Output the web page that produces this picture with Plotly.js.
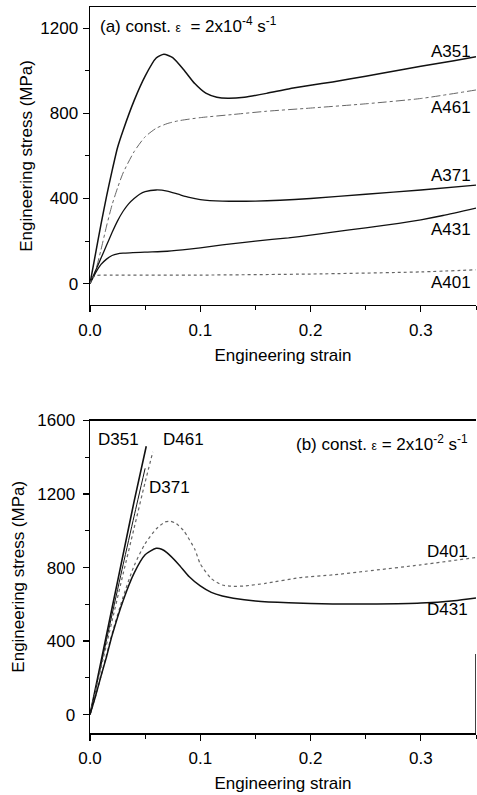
<!DOCTYPE html>
<html>
<head>
<meta charset="utf-8">
<script src="https://cdn.plot.ly/plotly-3.0.1.min.js"></script>
<style>html,body{margin:0;padding:0;background:#fff;}#chart{width:477px;height:795px;}</style>
</head>
<body>
<div id="chart"></div>
<script>
// ---- Panel (a): const. strain rate 2x10^-4 s^-1 ----
const a351X = [0,0.005,0.01,0.015,0.02,0.025,0.03,0.04,0.05,0.06,0.067,0.075,0.085,0.095,0.105,0.115,0.125,0.14,0.16,0.18,0.2,0.22,0.25,0.28,0.3,0.33,0.35];
const a351Y = [0,140,280,410,530,640,720,860,975,1060,1078,1062,1005,940,895,876,871,876,894,915,932,948,975,1003,1022,1047,1066];
const a461X = [0,0.005,0.01,0.015,0.02,0.025,0.03,0.04,0.05,0.06,0.07,0.08,0.1,0.13,0.16,0.2,0.25,0.3,0.35];
const a461Y = [0,60,160,270,370,450,520,620,690,730,752,765,780,795,810,825,845,870,910];
const a371X = [0,0.005,0.01,0.015,0.02,0.025,0.03,0.035,0.04,0.045,0.05,0.06,0.07,0.08,0.09,0.1,0.12,0.15,0.2,0.25,0.3,0.35];
const a371Y = [0,60,120,180,240,295,340,375,400,420,432,440,435,420,405,395,388,388,400,420,440,463];
const a431X = [0,0.005,0.01,0.015,0.02,0.025,0.03,0.05,0.07,0.09,0.11,0.13,0.15,0.18,0.2,0.22,0.25,0.28,0.3,0.32,0.35];
const a431Y = [0,50,90,115,132,140,143,148,152,162,175,188,200,215,228,242,262,283,300,320,355];
const a401X = [0,0.003,0.006,0.02,0.1,0.2,0.3,0.35];
const a401Y = [0,30,38,40,40,45,55,65];

// ---- Panel (b): const. strain rate 2x10^-2 s^-1 ----
const d351X = [0,0.01,0.02,0.03,0.04,0.051];
const d351Y = [0,290,580,870,1160,1460];
const d371X = [0,0.01,0.02,0.03,0.04,0.05];
const d371Y = [0,270,545,815,1080,1340];
const d461X = [0,0.01,0.02,0.03,0.04,0.05,0.057];
const d461Y = [0,255,510,765,1015,1265,1430];
const d401X = [0,0.005,0.01,0.02,0.03,0.04,0.05,0.06,0.068,0.073,0.078,0.085,0.095,0.1,0.11,0.12,0.13,0.14,0.16,0.19,0.22,0.25,0.3,0.35];
const d401Y = [0,100,210,440,640,810,930,1010,1048,1052,1040,1000,900,820,740,705,698,700,715,745,760,780,815,855];
const d431X = [0,0.005,0.01,0.015,0.02,0.03,0.04,0.05,0.06,0.065,0.07,0.08,0.09,0.1,0.11,0.12,0.13,0.15,0.18,0.22,0.26,0.3,0.33,0.35];
const d431Y = [0,100,210,315,430,620,770,870,905,900,880,820,750,700,665,645,633,618,608,602,602,607,620,635];

const xTickVals = [0,0.1,0.2,0.3];
const xTickText = ['0.0','0.1','0.2','0.3'];
const yTickValsA = [0,400,800,1200];
const yTickValsB = [0,400,800,1200,1600];

const FONT = 'Liberation Sans, Arial, Helvetica, sans-serif';
const SOLID = '#111111';
const GREY = '#666666';

function line(x, y, xa, ya, color, dash, width) {
  return {x: x, y: y, xaxis: xa, yaxis: ya, type: 'scatter', mode: 'lines',
          line: {color: color, dash: dash, width: width, shape: 'spline', smoothing: 0.6},
          hoverinfo: 'skip', showlegend: false};
}

const data = [
  line(a351X, a351Y, 'x', 'y', SOLID, 'solid', 1.5),
  line(a461X, a461Y, 'x', 'y', GREY, 'dashdot', 1),
  line(a371X, a371Y, 'x', 'y', SOLID, 'solid', 1.3),
  line(a431X, a431Y, 'x', 'y', SOLID, 'solid', 1.3),
  line(a401X, a401Y, 'x', 'y', GREY, 'dot', 1.2),
  line(d351X, d351Y, 'x2', 'y2', SOLID, 'solid', 1.6),
  line(d371X, d371Y, 'x2', 'y2', SOLID, 'solid', 1),
  line(d461X, d461Y, 'x2', 'y2', GREY, 'dot', 1.2),
  line(d401X, d401Y, 'x2', 'y2', GREY, 'dot', 1.2),
  line(d431X, d431Y, 'x2', 'y2', SOLID, 'solid', 1.5)
];

function xAxis(anchor, titleStandoff) {
  return {
    anchor: anchor, domain: [0, 1], range: [0, 0.35],
    tickvals: xTickVals, ticktext: xTickText,
    ticks: 'outside', ticklen: 6, tickwidth: 1.2, tickcolor: '#000',
    minor: {dtick: 0.05, tick0: 0, ticks: 'outside', ticklen: 4, tickwidth: 1, tickcolor: '#000'},
    showline: true, linecolor: '#000', linewidth: 1.5, mirror: true,
    showgrid: false, zeroline: false, automargin: false,
    tickfont: {family: FONT, size: 17, color: '#000'},
    ticklabelstandoff: 3,
    title: {text: 'Engineering strain', font: {family: FONT, size: 17, color: '#000'}, standoff: titleStandoff}
  };
}
function yAxis(anchor, domain, range, tickvals, labelStandoff, titleStandoff) {
  return {
    anchor: anchor, domain: domain, range: range,
    tickvals: tickvals,
    ticks: 'outside', ticklen: 6, tickwidth: 1.2, tickcolor: '#000',
    minor: {dtick: 200, tick0: 0, ticks: 'outside', ticklen: 4, tickwidth: 1, tickcolor: '#000'},
    showline: true, linecolor: '#000', linewidth: 1.5, mirror: false,
    showgrid: false, zeroline: false, automargin: false,
    tickfont: {family: FONT, size: 17, color: '#000'},
    ticklabelstandoff: labelStandoff,
    title: {text: 'Engineering stress (MPa)', font: {family: FONT, size: 17, color: '#000'}, standoff: titleStandoff}
  };
}

function lab(text, x, y, xref, yref, xanchor) {
  return {text: text, x: x, y: y, xref: xref, yref: yref, xanchor: xanchor, yanchor: 'middle',
          showarrow: false, font: {family: FONT, size: 17, color: '#000'}};
}
const EPS = '<span style="font-size:12px">ε</span>';

const layout = {
  width: 477, height: 795,
  margin: {l: 90, r: 1, t: 7, b: 62},
  paper_bgcolor: '#fff', plot_bgcolor: '#fff',
  showlegend: false,
  xaxis: xAxis('y', 10),
  yaxis: yAxis('x', [0.5897, 1], [-100, 1300], yTickValsA, 1, 3),
  xaxis2: xAxis('y2', 10),
  yaxis2: yAxis('x2', [0, 0.4304], [-100, 1600], yTickValsB, 4, 8),
  annotations: [
    lab('(a) const. ' + EPS + '  = 2x10<sup>-4</sup> s<sup>-1</sup>', 0.0075, 1217, 'x', 'y', 'left'),
    lab('A351', 0.347, 1090, 'x', 'y', 'right'),
    lab('A461', 0.347, 827, 'x', 'y', 'right'),
    lab('A371', 0.347, 508, 'x', 'y', 'right'),
    lab('A431', 0.347, 255, 'x', 'y', 'right'),
    lab('A401', 0.347, 6, 'x', 'y', 'right'),
    lab('(b) const. ' + EPS + ' = 2x10<sup>-2</sup> s<sup>-1</sup>', 0.3446, 1479, 'x2', 'y2', 'right'),
    lab('D351', 0.005, 1495, 'x2', 'y2', 'left'),
    lab('D461', 0.064, 1495, 'x2', 'y2', 'left'),
    lab('D371', 0.0518, 1233, 'x2', 'y2', 'left'),
    lab('D401', 0.3446, 890, 'x2', 'y2', 'right'),
    lab('D431', 0.3446, 574, 'x2', 'y2', 'right')
  ],
  shapes: [
    {type: 'line', xref: 'x2', yref: 'y2', x0: 0.35, x1: 0.35, y0: -100, y1: 330, line: {color: '#000', width: 1.5}}
  ]
};

Plotly.newPlot('chart', data, layout, {staticPlot: true, displayModeBar: false});
</script>
</body>
</html>
